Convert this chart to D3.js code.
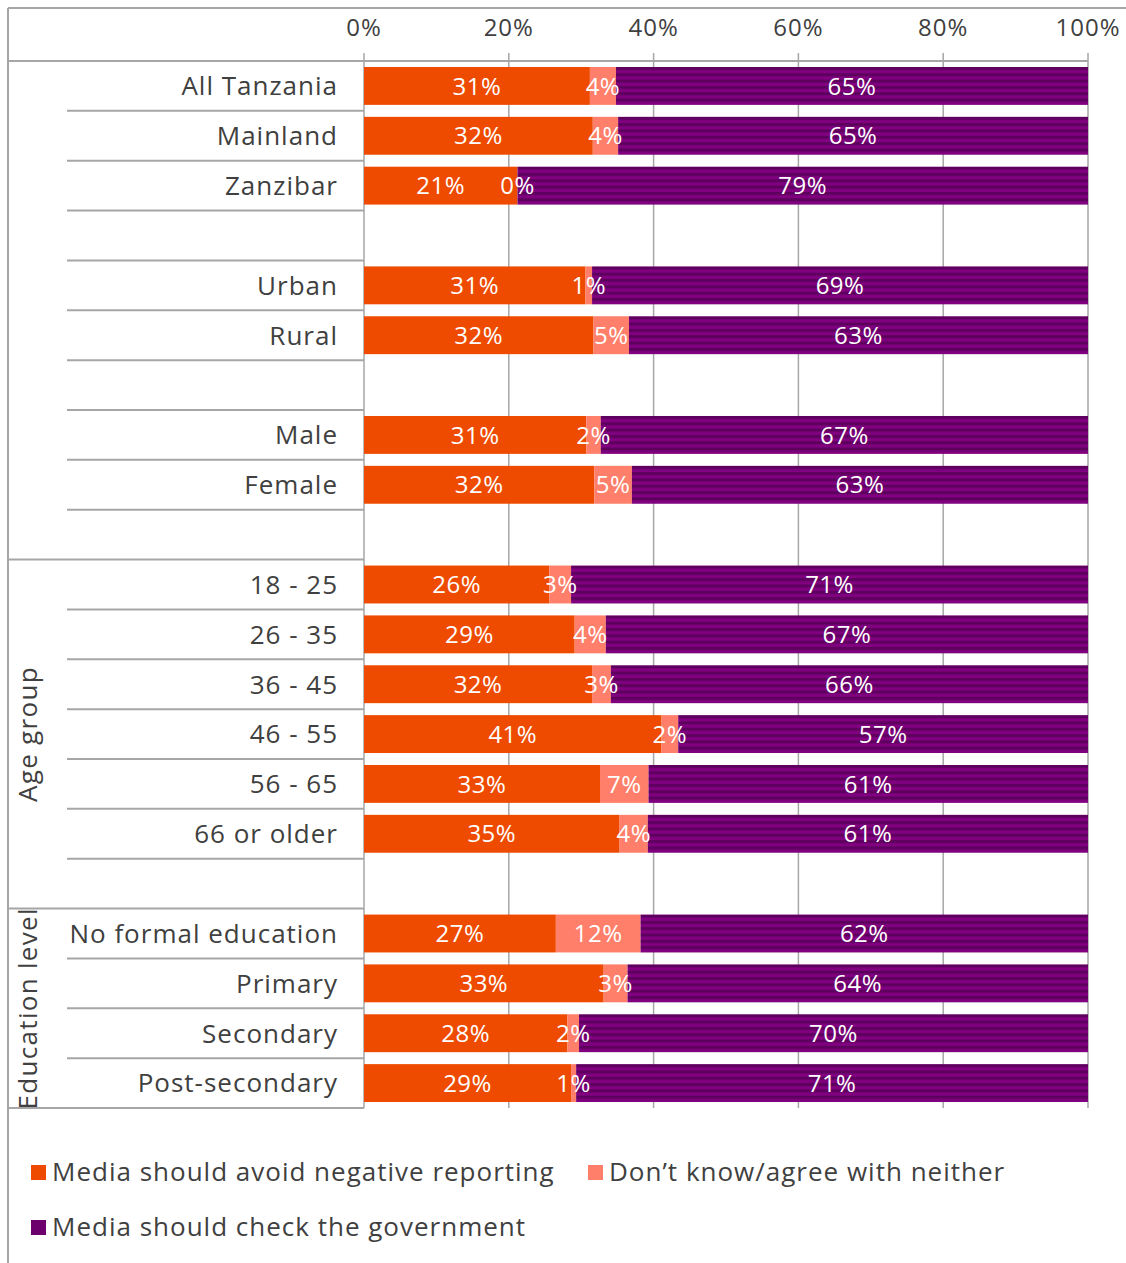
<!DOCTYPE html>
<html>
<head>
<meta charset="utf-8">
<script src="https://cdn.jsdelivr.net/npm/d3@7"></script>
<style>
  html, body { margin: 0; padding: 0; background: #fff; }
  svg { display: block; }
  text { font-family: "Open Sans", "Noto Sans", sans-serif; }
</style>
</head>
<body>
<div id="chart"></div>
<script>
// ---- Data ----
const categories = ["All Tanzania", "Mainland", "Zanzibar", "", "Urban", "Rural", "", "Male", "Female", "",
  "18 - 25", "26 - 35", "36 - 45", "46 - 55", "56 - 65", "66 or older", "",
  "No formal education", "Primary", "Secondary", "Post-secondary"];
const avoidNegative = [31.2, 31.6, 21.2, null, 30.6, 31.7, null, 30.7, 31.8, null,
  25.6, 29.1, 31.5, 41.1, 32.6, 35.3, null, 26.5, 33.1, 28.1, 28.6];
const dontKnow = [3.6, 3.5, 0, null, 0.9, 4.9, null, 2.0, 5.2, null,
  3.0, 4.3, 2.6, 2.3, 6.7, 3.9, null, 11.7, 3.3, 1.6, 0.7];
const checkGovernment = [65.2, 64.9, 78.8, null, 68.5, 63.4, null, 67.3, 63.0, null,
  71.4, 66.6, 65.9, 56.6, 60.7, 60.8, null, 61.8, 63.6, 70.3, 70.7];
const seriesNames = ["Media should avoid negative reporting", "Don\u2019t know/agree with neither", "Media should check the government"];
const xTicks = [0, 20, 40, 60, 80, 100];
const groupLabels = ["", "Age group", "Education level"];
const groupStarts = [0, 10, 17];
const groupEnds = [10, 17, 21];

// ---- Layout ----
const W = 1126, H = 1263;
const plotL = 364, plotR = 1088, plotT = 61, plotB = 1108;
const frameL = 8, frameT = 8, subL = 67;
const lineColor = "#A6A6A6";
const textColor = "#404040";
const colors = ["#EE4B00", "#FF7F6A", "#800080"];
const stripeDark = "#5E005E";

const svg = d3.select("#chart").append("svg").attr("width", W).attr("height", H);

const defs = svg.append("defs");
const pat = defs.append("pattern")
  .attr("id", "stripes")
  .attr("patternUnits", "objectBoundingBox")
  .attr("patternContentUnits", "userSpaceOnUse")
  .attr("width", 1).attr("height", 1 / 6);
pat.append("rect").attr("x", 0).attr("y", 0).attr("width", 2000).attr("height", 8).attr("fill", colors[2]);
pat.append("rect").attr("x", 0).attr("y", 0).attr("width", 2000).attr("height", 3).attr("fill", stripeDark);

const x = d3.scaleLinear().domain([0, 100]).range([plotL, plotR]);
const rowIdx = d3.range(categories.length);
const pad = 0.24;
const y = d3.scaleBand().domain(rowIdx).range([plotT, plotB]).paddingInner(pad).paddingOuter(pad / 2);
const step = y.step();

// frame lines
svg.append("line").attr("x1", frameL).attr("x2", W).attr("y1", frameT).attr("y2", frameT)
  .attr("stroke", lineColor).attr("stroke-width", 2);
svg.append("line").attr("x1", frameL).attr("x2", frameL).attr("y1", frameT).attr("y2", H)
  .attr("stroke", lineColor).attr("stroke-width", 2);

// gridlines
const grid = svg.append("g");
grid.selectAll("line").data(xTicks).join("line")
  .attr("x1", d => x(d)).attr("x2", d => x(d))
  .attr("y1", plotT - 8).attr("y2", plotB)
  .attr("stroke", lineColor).attr("stroke-width", 1.5);
// top axis line
svg.append("line").attr("x1", frameL).attr("x2", plotR).attr("y1", plotT).attr("y2", plotT)
  .attr("stroke", lineColor).attr("stroke-width", 2);

// tick labels
svg.append("g").selectAll("text").data(xTicks).join("text")
  .attr("x", d => x(d)).attr("y", 36)
  .attr("text-anchor", "middle")
  .attr("font-size", 24).attr("letter-spacing", 1).attr("fill", textColor)
  .text(d => d + "%");

// row separator lines
const groupBoundaries = new Set(groupEnds);
svg.append("g").selectAll("line").data(d3.range(1, categories.length + 1)).join("line")
  .attr("x1", k => groupBoundaries.has(k) ? frameL : subL)
  .attr("x2", plotL)
  .attr("y1", k => plotT + k * step).attr("y2", k => plotT + k * step)
  .attr("stroke", lineColor).attr("stroke-width", 2);

// category labels
svg.append("g").selectAll("text").data(rowIdx.filter(i => categories[i] !== "")).join("text")
  .attr("x", 338).attr("y", i => y(i) + y.bandwidth() / 2)
  .attr("dy", "0.36em")
  .attr("text-anchor", "end")
  .attr("font-size", 26).attr("letter-spacing", 1).attr("fill", textColor)
  .text(i => categories[i]);

// group labels
svg.append("g").selectAll("text").data(d3.range(groupLabels.length).filter(g => groupLabels[g] !== "")).join("text")
  .attr("transform", g => {
    const cy = plotT + (groupStarts[g] + groupEnds[g]) / 2 * step;
    return `translate(28,${cy}) rotate(-90)`;
  })
  .attr("dy", "0.36em")
  .attr("text-anchor", "middle")
  .attr("font-size", 26).attr("letter-spacing", 1.3).attr("fill", textColor)
  .text(g => groupLabels[g]);

// stacked bars
const valueArrays = [avoidNegative, dontKnow, checkGovernment];
const segs = [];
rowIdx.forEach(i => {
  if (avoidNegative[i] === null) return;
  let acc = 0;
  valueArrays.forEach((arr, s) => {
    segs.push({ row: i, s, x0: acc, x1: acc + arr[i], v: arr[i] });
    acc += arr[i];
  });
});

const bars = svg.append("g");
bars.selectAll("rect").data(segs.filter(d => d.v > 0)).join("rect")
  .attr("x", d => x(d.x0)).attr("width", d => x(d.x1) - x(d.x0))
  .attr("y", d => y(d.row)).attr("height", y.bandwidth())
  .attr("fill", d => d.s === 2 ? "url(#stripes)" : colors[d.s]);

svg.append("g").selectAll("text").data(segs).join("text")
  .attr("x", d => x((d.x0 + d.x1) / 2))
  .attr("y", d => y(d.row) + y.bandwidth() / 2)
  .attr("dy", "0.36em")
  .attr("text-anchor", "middle")
  .attr("font-size", 24).attr("letter-spacing", 0.5).attr("fill", "#fff")
  .text(d => Math.round(d.v) + "%");

// legend
const legendItems = [
  { s: 0, x: 31, y: 1172 },
  { s: 1, x: 588, y: 1172 },
  { s: 2, x: 31, y: 1227 }
];
const lg = svg.append("g");
lg.selectAll("rect").data(legendItems).join("rect")
  .attr("x", d => d.x).attr("y", d => d.y - 7).attr("width", 15).attr("height", 15)
  .attr("fill", d => d.s === 2 ? "#6E006E" : colors[d.s]);
lg.selectAll("text").data(legendItems).join("text")
  .attr("x", d => d.x + 21).attr("y", d => d.y)
  .attr("dy", "0.36em")
  .attr("font-size", 26).attr("letter-spacing", 1).attr("fill", textColor)
  .text(d => seriesNames[d.s]);
</script>
</body>
</html>
